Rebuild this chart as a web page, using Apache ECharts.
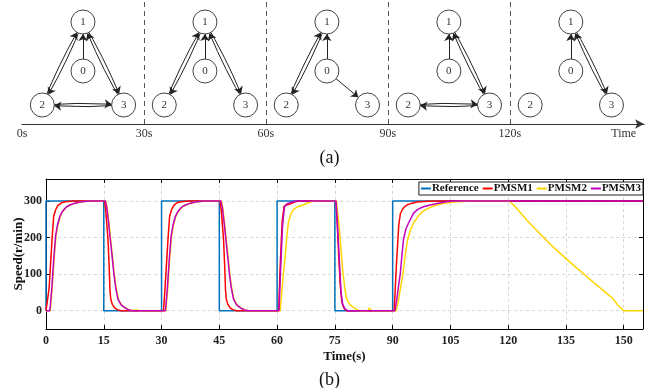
<!DOCTYPE html>
<html>
<head>
<meta charset="utf-8">
<script src="https://cdn.jsdelivr.net/npm/echarts@6/dist/echarts.min.js"></script>
<style>html,body{margin:0;padding:0;background:#fff;}#c{width:659px;height:388px;}</style>
</head>
<body>
<div id="c"></div>
<script>
// ---------- (b) speed data: [time(s), speed(r/min)] ----------
const reference = [[0,0],[0,300],[15,300],[15,0],[30,0],[30,300],[45,300],[45,0],[60,0],[60,300],[75,300],[75,0],[90,0],[90,300],[155,300]];
const pmsm1 = [[0,0],[0.4,0],[0.8,60],[1.2,130],[1.6,200],[2.0,258],[2.5,276],[3.1,288],[4,295],[5,298],[7,300],
  [15.2,300],[15.5,275],[15.8,235],[16.1,194],[16.4,120],[16.6,58],[16.8,32],[17.2,18],[17.8,8],[18.5,3],[19.5,0],
  [30.5,0],[30.9,60],[31.3,130],[31.7,200],[32.1,258],[32.6,276],[33.2,288],[34,295],[35,298],[37,300],
  [45.2,300],[45.5,275],[45.8,235],[46.1,194],[46.4,120],[46.6,58],[46.8,32],[47.2,18],[47.8,8],[48.5,3],[49.5,0],
  [60.4,0],[60.8,120],[61.3,240],[61.8,285],[62.5,289],[63.5,292],[64.5,297],[65.5,300],
  [75.3,300],[75.6,240],[76.0,150],[76.4,70],[76.8,25],[77.3,8],[78,0],
  [90.4,0],[91.0,130],[91.6,235],[92.0,265],[92.5,276],[93.0,283],[93.7,289],[95,294],[96.3,297],[99,299],[102,300],[155,300]];
const pmsm2 = [[0,0],[1.1,0],[1.6,60],[2.1,140],[2.6,205],[3.1,235],[3.7,258],[4.4,272],[5.3,283],[6.3,289],[7.6,294],[8.9,297],[11.2,300],
  [15.5,300],[15.9,280],[16.4,235],[16.8,194],[17.3,145],[17.7,103],[18.2,62],[18.8,31],[19.6,16],[20.6,8],[21.5,3],[22.5,0],[23.5,3],[24.2,0],
  [31.1,0],[31.6,60],[32.1,140],[32.6,205],[33.1,235],[33.7,258],[34.4,272],[35.3,283],[36.3,289],[37.6,294],[38.9,297],[41.2,300],
  [45.5,300],[45.9,280],[46.4,235],[46.8,194],[47.3,145],[47.7,103],[48.2,62],[48.8,31],[49.6,16],[50.6,8],[51.5,3],[52.5,0],
  [60.8,0],[61.3,60],[61.7,110],[62.1,148],[62.5,200],[62.9,239],[63.5,262],[64.2,276],[65.3,284],[66.8,289],[68,295],[69.5,300],
  [75.4,300],[75.8,260],[76.1,230],[76.4,194],[76.8,140],[77.1,103],[77.6,60],[78.1,31],[78.8,18],[79.8,9],[80.8,3],[81.5,0],[83.6,0],[83.9,7],[84.3,6],[84.6,0],
  [90.9,0],[91.4,20],[92.0,60],[92.7,103],[93.3,155],[93.9,194],[94.6,220],[95.4,239],[96.6,258],[98.0,273],[99.8,283],[101.5,289],[103.5,294],[105.8,297],[110,300],
  [120.3,300],[122,282],[125,246],[128,213],[131,181],[134,152],[137,124],[140,97],[143,70],[145.5,48],[147,35],[148.5,15],[150,0],[155,0]];
const pmsm3 = [[0,0],[1.0,0],[1.5,60],[2.0,140],[2.5,205],[3.0,235],[3.6,258],[4.3,272],[5.2,283],[6.2,289],[7.5,294],[8.8,297],[11,300],
  [15.4,300],[15.8,280],[16.3,235],[16.7,194],[17.2,145],[17.6,103],[18.1,62],[18.7,31],[19.5,16],[20.5,8],[21.5,2],[22.5,0],
  [31.0,0],[31.5,60],[32.0,140],[32.5,205],[33.0,235],[33.6,258],[34.3,272],[35.2,283],[36.2,289],[37.5,294],[38.8,297],[41,300],
  [45.4,300],[45.8,280],[46.3,235],[46.7,194],[47.2,145],[47.6,103],[48.1,62],[48.7,31],[49.5,16],[50.5,8],[51.5,2],[52.5,0],
  [60.5,0],[60.9,110],[61.4,230],[61.9,283],[62.5,292],[63.5,296],[65,300],
  [75.3,300],[75.6,250],[75.9,190],[76.3,110],[76.6,50],[77.0,18],[77.6,5],[78.3,0],
  [90.6,0],[91.0,25],[91.5,65],[92.0,103],[92.4,150],[92.8,194],[93.4,222],[94.1,239],[95.4,266],[96.5,277],[98.0,284],[99.7,289],[101.5,293],[103.5,297],[105.5,300],[155,300]];
const seriesNames = ['Reference','PMSM1','PMSM2','PMSM3'];
const yTickValues = [0,100,200,300];

// ---------- (a) topology diagram ----------
const panelStarts = [0,30,60,90,120];            // seconds
const switchTimes = [30,60,90,120];
const timeTickValues = [0,30,60,90,120,148];
const timeTickLabels = ['0s','30s','60s','90s','120s','Time'];
const nodeNames = ['1','0','2','3'];
const nodeLayout = {'1':[15,102],'0':[15,53],'2':[5,19],'3':[25,19]}; // [offset in panel (s), height]
const panelLinks = [
  [['0','1'],['1','2'],['2','1'],['1','3'],['3','1'],['2','3'],['3','2']],
  [['0','1'],['1','2'],['2','1'],['1','3'],['3','1']],
  [['0','1'],['1','2'],['2','1'],['0','3']],
  [['0','1'],['1','3'],['3','1'],['2','3'],['3','2']],
  [['0','1'],['1','3'],['3','1']]
];

const serif = 'Liberation Serif, Times New Roman, serif';
const colors = ['#0072BD','#FF0000','#FFD500','#BF00BF'];

const graphSeries = panelStarts.map((p, i) => {
  const links = panelLinks[i];
  return {
    type: 'graph', layout: 'none', coordinateSystem: 'cartesian2d',
    xAxisIndex: 2, yAxisIndex: 2, silent: true, z: 5,
    symbol: 'circle', symbolSize: 24,
    itemStyle: {color: '#fff', borderColor: '#444', borderWidth: 1},
    label: {show: true, position: 'inside', formatter: '{b}', color: '#333', fontFamily: serif, fontSize: 11},
    edgeSymbol: ['none','arrow'], edgeSymbolSize: 7,
    lineStyle: {color: '#222', width: 1, opacity: 1, curveness: 0},
    emphasis: {disabled: true},
    data: nodeNames.map(n => ({name: n, value: [p + nodeLayout[n][0], nodeLayout[n][1]]})),
    links: links.map(([s, t]) => ({
      source: s, target: t,
      lineStyle: {curveness: links.some(l => l[0] === t && l[1] === s) ? 0.04 : 0}
    }))
  };
});

const lineSeries = [reference, pmsm1, pmsm2, pmsm3].map((d, i) => ({
  name: seriesNames[i], type: 'line', data: d, xAxisIndex: 0, yAxisIndex: 0,
  showSymbol: false, symbol: 'none', color: colors[i],
  lineStyle: {width: 1.5, color: colors[i]}, z: 2 + i
}));

const chart = echarts.init(document.getElementById('c'), null, {renderer: 'canvas'});
chart.setOption({
  animation: false,
  backgroundColor: '#fff',
  title: [
    {text: '(a)', left: 'center', top: 144, textStyle: {fontFamily: serif, fontSize: 18, fontWeight: 'normal', color: '#111'}},
    {text: '(b)', left: 'center', top: 366, textStyle: {fontFamily: serif, fontSize: 18, fontWeight: 'normal', color: '#111'}}
  ],
  legend: {
    data: seriesNames, right: 16, top: 182, icon: 'rect', itemWidth: 10, itemHeight: 2, itemGap: 4,
    padding: [1, 2], borderColor: '#222', borderWidth: 1, backgroundColor: '#fff',
    textStyle: {fontFamily: serif, fontSize: 11, fontWeight: 'bold', color: '#111', padding: [0, 0, 0, -4]}
  },
  grid: [
    {left: 46, top: 179, width: 597, height: 150, outerBoundsMode: 'none', containLabel: false},
    {left: 22, top: 0, width: 622, height: 124, outerBoundsMode: 'none', containLabel: false}
  ],
  xAxis: [
    {type: 'value', gridIndex: 0, min: 0, max: 155, interval: 15,
     name: 'Time(s)', nameLocation: 'middle', nameGap: 21, nameMoveOverlap: false,
     nameTextStyle: {fontFamily: serif, fontSize: 13, fontWeight: 'bold', color: '#111'},
     axisLine: {show: true, onZero: false, lineStyle: {color: '#000', width: 1}},
     axisTick: {inside: true, length: 4, lineStyle: {color: '#000'}},
     axisLabel: {fontFamily: serif, fontSize: 12, fontWeight: 'bold', color: '#222', margin: 6, showMaxLabel: false},
     splitLine: {show: true, lineStyle: {type: [3, 3], color: '#d8d8d8'}}},
    {type: 'value', gridIndex: 0, position: 'top', min: 0, max: 155, interval: 15,
     axisLine: {show: true, onZero: false, lineStyle: {color: '#000', width: 1}},
     axisTick: {inside: true, length: 4, lineStyle: {color: '#000'}},
     axisLabel: {show: false}, splitLine: {show: false}},
    {type: 'value', gridIndex: 1, min: 0, max: 153,
     axisLine: {show: true, onZero: false, symbol: ['none', 'arrow'], symbolSize: [7, 9], lineStyle: {color: '#333', width: 1.2}},
     axisTick: {show: false},
     axisLabel: {customValues: timeTickValues, margin: 4,
       formatter: v => timeTickLabels[timeTickValues.indexOf(v)],
       fontFamily: serif, fontSize: 12, color: '#333'},
     splitLine: {show: false}}
  ],
  yAxis: [
    {type: 'value', gridIndex: 0, min: -50, max: 360,
     name: 'Speed(r/min)', nameLocation: 'middle', nameGap: 21, nameMoveOverlap: false,
     nameTextStyle: {fontFamily: serif, fontSize: 13, fontWeight: 'bold', color: '#111'},
     axisLine: {show: true, onZero: false, lineStyle: {color: '#000', width: 1}},
     axisTick: {inside: true, length: 4, customValues: yTickValues, lineStyle: {color: '#000'}},
     axisLabel: {customValues: yTickValues, fontFamily: serif, fontSize: 12, fontWeight: 'bold', color: '#222', margin: 4},
     splitLine: {show: true, lineStyle: {type: [3, 3], color: '#d8d8d8'}}},
    {type: 'value', gridIndex: 0, position: 'right', min: -50, max: 360,
     axisLine: {show: true, onZero: false, lineStyle: {color: '#000', width: 1}},
     axisTick: {inside: true, length: 4, customValues: yTickValues, lineStyle: {color: '#000'}},
     axisLabel: {show: false}, splitLine: {show: false}},
    {type: 'value', gridIndex: 1, min: 0, max: 124, show: false}
  ],
  series: [
    ...lineSeries,
    {type: 'line', xAxisIndex: 2, yAxisIndex: 2, data: [], silent: true,
     markLine: {silent: true, symbol: 'none', label: {show: false},
       lineStyle: {type: [5, 4], color: '#555', width: 1},
       data: switchTimes.map(t => ({xAxis: t}))}},
    ...graphSeries
  ]
});
</script>
</body>
</html>
